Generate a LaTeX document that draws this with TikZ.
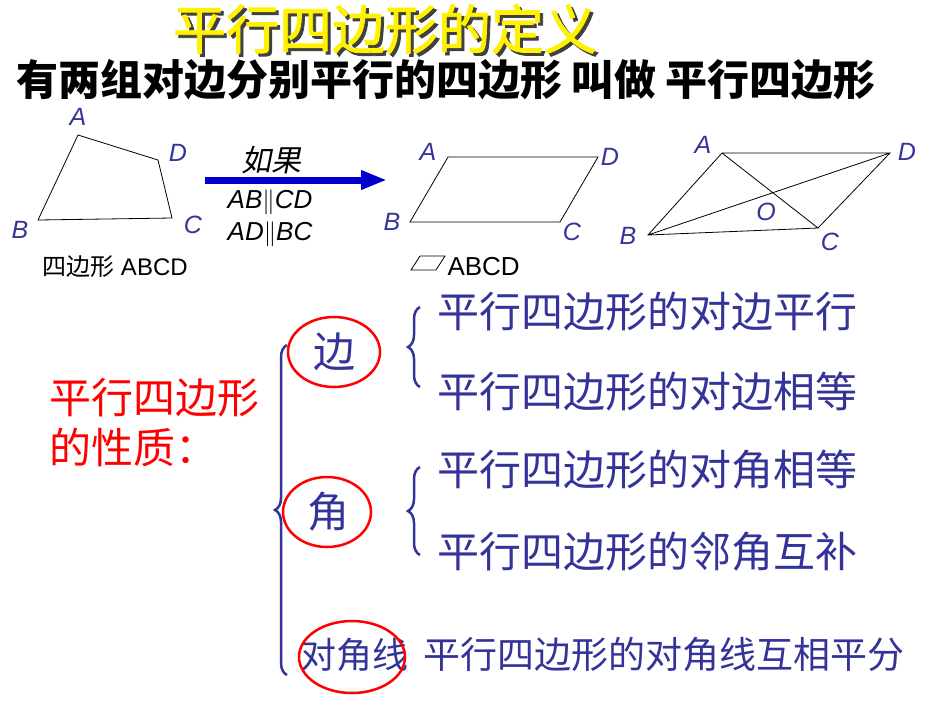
\documentclass[tikz,border=0pt]{standalone}
\usepackage{fontspec}
\setmainfont{Liberation Sans}
\newfontfamily\cjk{Noto Sans CJK SC}
\newfontfamily\cjksl[FakeSlant=0.2]{Noto Sans CJK SC}
\newfontfamily\cjkbold[FakeBold=1.5]{Noto Sans CJK SC}
\usetikzlibrary{decorations.pathreplacing,arrows.meta}
\definecolor{dblue}{HTML}{333399}
\tikzset{
 lbl/.style={text=dblue,font=\fontsize{25}{25}\selectfont\itshape},
 ital/.style={font=\fontsize{26}{26}\selectfont\itshape},
 prop/.style={text=dblue,anchor=west,font=\cjk\fontsize{42}{42}\selectfont},
 ring/.style={draw=red,line width=2.5pt},
 brc/.style={draw=dblue,line width=2.5pt,decorate,decoration={brace,amplitude=12pt}},
 fig/.style={draw=black,line width=0.8pt},
 tt/.style={font=\cjkbold\fontsize{53}{53}\selectfont}
}
\begin{document}
\begin{tikzpicture}[x=1pt,y=-1pt]
\useasboundingbox (0,0) rectangle (950,713);
% title
\node[tt,text=black!75] (tsh) at (388,32) {平行四边形的定义};
\node[tt,text=yellow] (title) at (385,29) {平行四边形的定义};
\node (def) at (446,80) {\cjk\bfseries\fontsize{42}{42}\selectfont 有两组对边分别平行的四边形 叫做 平行四边形};
% quad 1
\coordinate (qa) at (78,135); \coordinate (qd) at (158,160);
\coordinate (qc) at (172,218); \coordinate (qb) at (38,220);
\draw[fig] (qa)--(qd)--(qc)--(qb)--cycle;
\node[lbl] (la1) at (78,117) {A}; \node[lbl] (ld1) at (178,153) {D};
\node[lbl] (lc1) at (193,225) {C}; \node[lbl] (lb1) at (20,230) {B};
\node (n1) at (115,267) {\fontsize{24}{24}\selectfont{\cjk 四边形} ABCD};
% arrow
\coordinate (as) at (205,180); \coordinate (ae) at (387,180);
\draw[blue!80!black,line width=7pt,-{Triangle[length=26pt,width=18pt]}] (as)--(ae);
\node (ru) at (271,160) {\cjksl\fontsize{30}{30}\selectfont 如果};
\node[ital] (c1) at (270,202) {AB$\|$CD};
\node[ital] (c2) at (270,234) {AD$\|$BC};
% parallelogram 2
\coordinate (pa) at (448,157); \coordinate (pd) at (598,157);
\coordinate (pc) at (560,222); \coordinate (pb) at (410,222);
\draw[fig] (pa)--(pd)--(pc)--(pb)--cycle;
\node[lbl] (la2) at (428,152) {A}; \node[lbl] (ld2) at (610,157) {D};
\node[lbl] (lc2) at (572,232) {C}; \node[lbl] (lb2) at (392,222) {B};
\coordinate (s1) at (420,256); \coordinate (s2) at (445,256);
\coordinate (s3) at (436,270); \coordinate (s4) at (411,270);
\draw[black,line width=0.8pt] (s1)--(s2)--(s3)--(s4)--cycle;
\node[anchor=west] (n2) at (444,267) {\fontsize{26}{26}\selectfont ABCD};
% parallelogram 3
\coordinate (ra) at (722,153); \coordinate (rd) at (890,153);
\coordinate (rc) at (818,228); \coordinate (rb) at (648,235);
\draw[fig] (ra)--(rd)--(rc)--(rb)--cycle (ra)--(rc) (rb)--(rd);
\node[lbl] (la3) at (703,145) {A}; \node[lbl] (ld3) at (907,152) {D};
\node[lbl] (lc3) at (830,242) {C}; \node[lbl] (lb3) at (628,236) {B};
\node[lbl] (lo3) at (766,212) {O};
% properties
\node[text=red,anchor=west] (p1) at (46,398) {\cjk\fontsize{42}{42}\selectfont 平行四边形};
\node[text=red,anchor=west] (p2) at (46,447) {\cjk\fontsize{42}{42}\selectfont 的性质：};
\coordinate (bt) at (287,345); \coordinate (bb) at (287,675);
\draw[brc] (bb)--(bt);
\node[text=dblue,font=\cjk\fontsize{42}{42}\selectfont] (e1) at (334,352) {边};
\node[text=dblue,font=\cjk\fontsize{42}{42}\selectfont] (e2) at (328,512) {角};
\node[text=dblue,font=\cjk\fontsize{36}{36}\selectfont] (e3) at (354,655) {对角线};
\draw[ring] (334,352) ellipse [x radius=46,y radius=35];
\draw[ring] (327,512) ellipse [x radius=44,y radius=35];
\draw[ring] (352,657) ellipse [x radius=53,y radius=36];
\coordinate (b1t) at (420,307); \coordinate (b1b) at (420,387);
\draw[brc] (b1b)--(b1t);
\coordinate (b2t) at (420,467); \coordinate (b2b) at (420,555);
\draw[brc] (b2b)--(b2t);
\node[prop] (t1) at (434,312) {平行四边形的对边平行};
\node[prop] (t2) at (434,392) {平行四边形的对边相等};
\node[prop] (t3) at (434,470) {平行四边形的对角相等};
\node[prop] (t4) at (434,552) {平行四边形的邻角互补};
\node[prop,font=\cjk\fontsize{37}{37}\selectfont] (t5) at (420,655) {平行四边形的对角线互相平分};
\end{tikzpicture}
\end{document}
